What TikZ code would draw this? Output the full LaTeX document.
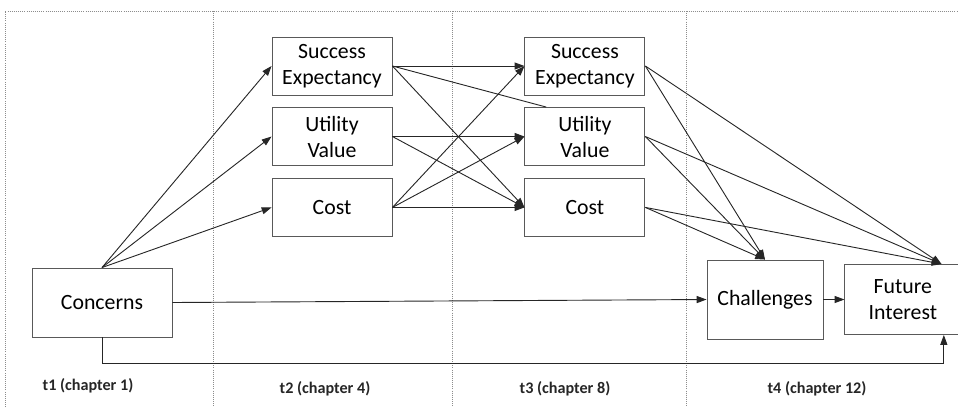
\documentclass[tikz,border=0pt]{standalone}
\usepackage{fontspec}
\setmainfont{Carlito}
\usetikzlibrary{arrows.meta,positioning,calc}

\begin{document}
\begin{tikzpicture}[
    var/.style={draw=black!65, line width=0.65pt, align=center,
                minimum width=3cm, minimum height=1.45cm, inner sep=2pt,
                font=\fontsize{15.5}{18.5}\selectfont},
    arr/.style={-{Triangle[length=7pt, width=5pt]}, line width=0.65pt, draw=black!85},
    link/.style={line width=0.65pt, draw=black!85},
    timelbl/.style={font=\fontsize{11.5}{14}\selectfont\bfseries, text=black!85},
    divider/.style={densely dotted, draw=black!45, line width=0.5pt},
    node distance=0.29cm and 3.3cm
  ]
  \useasboundingbox (0,0) rectangle (23.95,-10.175);

  % time frame
  \draw[divider] (0.125,-10.175) -- (0.125,-0.275) -- (23.95,-0.275);
  \draw[divider] (5.325,-0.275) -- (5.325,-10.175);
  \draw[divider] (11.3,-0.275) -- (11.3,-10.175);
  \draw[divider] (17.15,-0.275) -- (17.15,-10.175);

  \node[var, minimum width=3.5cm, minimum height=1.725cm] (con) at (2.55,-7.5625) {Concerns};

  \node[var] (se2) at (8.3,-1.65) {Success\\Expectancy};
  \node[var, below=of se2] (uv2) {Utility\\Value};
  \node[var, below=0.3cm of uv2] (co2) {Cost};

  \node[var, right=of se2] (se3) {Success\\Expectancy};
  \node[var, right=of uv2] (uv3) {Utility\\Value};
  \node[var, right=of co2] (co3) {Cost};

  \node[var, minimum width=2.9cm, minimum height=1.975cm] (ch) at (19.125,-7.4875) {Challenges};
  \node[var, minimum width=2.9cm, minimum height=1.75cm, right=0.525cm of ch] (fi) {Future\\Interest};

  \coordinate (uvtop) at ($(uv3.north west)!0.18!(uv3.north east)$);
  \coordinate (fitop) at ($(fi.north west)!0.83!(fi.north east)$);
  \coordinate (fibot) at ($(fi.south west)!0.85!(fi.south east)$);

  % t1 -> t2
  \draw[arr] (con.north) -- (se2.west);
  \draw[arr] (con.north) -- (uv2.west);
  \draw[arr] (con.north) -- (co2.west);

  % t2 -> t3
  \draw[arr] (se2.east) -- (se3.west);
  \draw[link] (se2.east) -- (uvtop);
  \draw[arr] (se2.east) -- (co3.west);
  \draw[arr] (uv2.east) -- (uv3.west);
  \draw[arr] (uv2.east) -- (co3.west);
  \draw[arr] (co2.east) -- (se3.west);
  \draw[arr] (co2.east) -- (uv3.west);
  \draw[arr] (co2.east) -- (co3.west);

  % t3 -> t4
  \draw[arr] (se3.east) -- (ch.north);
  \draw[arr] (se3.east) -- (fitop);
  \draw[arr] (uv3.east) -- (ch.north);
  \draw[arr] (uv3.east) -- (fitop);
  \draw[arr] (co3.east) -- (ch.north);
  \draw[arr] (co3.east) -- (fitop);

  \draw[arr] (con.east) -- (ch.west);
  \draw[arr] (ch.east) -- (fi.west);
  \draw[arr] (con.south) -- ++(0,-0.65) -| (fibot);

  \node[timelbl] (t1) at (2.2,-9.65) {t1 (chapter 1)};
  \node[timelbl] (t2) at (8.125,-9.725) {t2 (chapter 4)};
  \node[timelbl] (t3) at (14.125,-9.725) {t3 (chapter 8)};
  \node[timelbl] (t4) at (20.425,-9.725) {t4 (chapter 12)};
\end{tikzpicture}
\end{document}
